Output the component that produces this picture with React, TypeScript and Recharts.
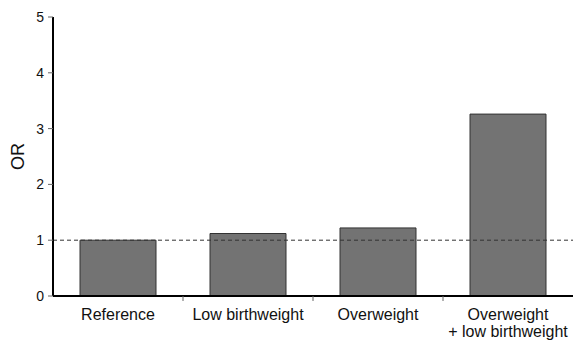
import { BarChart, Bar, XAxis, YAxis, ReferenceLine } from 'recharts';

// Odds ratios
const groups = ['Reference', 'Low birthweight', 'Overweight', 'Overweight\n+ low birthweight'];
const oddsRatios = [1.0, 1.12, 1.22, 3.26];
const yTicks = [0, 1, 2, 3, 4, 5];

const chartData = groups.map((g, i) => ({ group: g, or: oddsRatios[i] }));

const FONT = 'Liberation Sans, Arial, sans-serif';

function GroupTick(props: any) {
  const { x, y, payload } = props;
  const lines = String(payload.value).split('\n');
  const half = payload.offset || 65;
  return (
    <g>
      {payload.index > 0 && (
        <line x1={x - half} y1={y} x2={x - half} y2={y + 5} stroke="#666" strokeWidth={1} />
      )}
      <text x={x} y={y} textAnchor="middle" fontSize={16} fontFamily={FONT} fill="#111">
        {lines.map((l, i) => (
          <tspan key={i} x={x} dy={i === 0 ? 24 : 17}>
            {l}
          </tspan>
        ))}
      </text>
    </g>
  );
}

export default function App() {
  return (
    <div style={{ position: 'absolute', left: 0, top: 0, background: '#fff' }}>
      <BarChart
        width={573}
        height={340}
        data={chartData}
        margin={{ top: 17, right: 0, bottom: 0, left: 0 }}
        barCategoryGap={27}
      >
        <XAxis
          dataKey="group"
          height={44}
          interval={0}
          tickLine={false}
          tickSize={0}
          tickMargin={0}
          axisLine={{ stroke: '#000', strokeWidth: 2 }}
          tick={<GroupTick />}
        />
        <YAxis
          width={53}
          domain={[0, 5]}
          ticks={yTicks}
          interval={0}
          tickSize={5}
          tickMargin={4}
          axisLine={{ stroke: '#000', strokeWidth: 2 }}
          tickLine={{ stroke: '#666' }}
          tick={{ fontSize: 14, fontFamily: FONT, fill: '#111' }}
          label={{
            value: 'OR',
            angle: -90,
            position: 'insideLeft',
            offset: 18,
            style: { fontSize: 18, fontFamily: FONT, fill: '#111', textAnchor: 'middle' },
          }}
        />
        <ReferenceLine y={1} stroke="#333" strokeDasharray="4 3" strokeWidth={1} />
        <Bar
          dataKey="or"
          fill="#737373"
          stroke="#333"
          strokeWidth={1}
          isAnimationActive={false}
        />
      </BarChart>
    </div>
  );
}
